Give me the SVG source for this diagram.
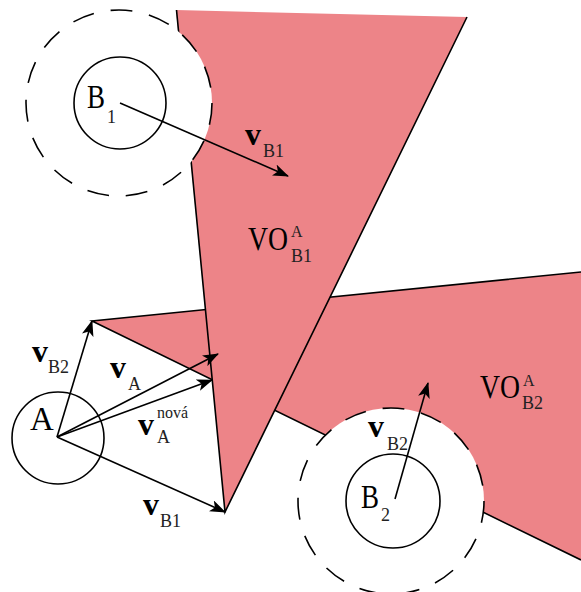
<svg xmlns="http://www.w3.org/2000/svg" width="581" height="592" viewBox="0 0 581 592">
<style>
.vo{fill:#ed8488;stroke:none}
.edge{stroke:#000;stroke-width:1.6;fill:none}
.obs{fill:#fff;stroke:#000;stroke-width:1.6;stroke-dasharray:22 17}
.body{fill:none;stroke:#000;stroke-width:1.6}
.vec{stroke:#000;stroke-width:1.6;fill:none;marker-end:url(#ah)}
text{font-family:"Liberation Serif","Times New Roman",serif;fill:#000}
.big{font-size:33px}
.bv{font-size:32px;font-weight:bold}
.sub{font-size:18px;fill:#222}
.sup{font-size:16px;fill:#222}
</style>
<defs>
<marker id="ah" viewBox="0 0 16 12" markerWidth="16" markerHeight="12" refX="15" refY="6" orient="auto" markerUnits="userSpaceOnUse">
<path d="M0,0 L16,6 L0,12 L4,6 Z" fill="#000"/>
</marker>
</defs>
<rect width="581" height="592" fill="#fff"/>
<g id="VO_B2">
<polygon class="vo" points="92,321 581,272 581,560"/>
<polyline class="edge" points="581,272 92,321 581,560"/>
</g>
<g id="VO_B1">
<polygon class="vo" points="176,10 467,17 225,512"/>
<polyline class="edge" points="176.5,10 225,512 467,17"/>
</g>
<g id="B1">
<circle class="obs" cx="119" cy="103" r="93"/>
<circle class="body" cx="120" cy="103" r="46"/>
<text class="big" x="87" y="108" textLength="18" lengthAdjust="spacingAndGlyphs">B</text><text class="sub" x="107" y="123">1</text>
</g>
<g id="B2">
<circle class="obs" cx="391" cy="501" r="93"/>
<circle class="body" cx="393" cy="501" r="47"/>
<text class="big" x="361" y="508" textLength="18" lengthAdjust="spacingAndGlyphs">B</text><text class="sub" x="381" y="521">2</text>
</g>
<g id="A">
<circle class="body" cx="58" cy="438" r="46"/>
<text class="big" x="30" y="430">A</text>
</g>
<g id="connectors">
<line class="vec" x1="120" y1="103" x2="288" y2="176"/>
<line class="vec" x1="395" y1="499" x2="428" y2="383"/>
<line class="vec" x1="57" y1="437" x2="92" y2="321"/>
<line class="vec" x1="57" y1="437" x2="218" y2="354"/>
<line class="vec" x1="57" y1="437" x2="212" y2="380"/>
<line class="vec" x1="57" y1="437" x2="225" y2="512"/>
</g>
<g id="labels">
<text class="bv" x="245" y="145">v</text><text class="sub" x="263" y="157">B1</text>
<text class="big" x="248" y="250" textLength="40" lengthAdjust="spacingAndGlyphs">VO</text><text class="sup" x="291" y="237">A</text><text class="sub" x="291" y="262">B1</text>
<text class="bv" x="32" y="362">v</text><text class="sub" x="48" y="373">B2</text>
<text class="bv" x="110" y="378">v</text><text class="sub" x="128" y="390">A</text>
<text class="bv" x="138" y="435">v</text><text class="sup" x="157" y="418">nová</text><text class="sub" x="157" y="443">A</text>
<text class="bv" x="143" y="515">v</text><text class="sub" x="160" y="527">B1</text>
<text class="big" x="480" y="398" textLength="40" lengthAdjust="spacingAndGlyphs">VO</text><text class="sup" x="523" y="386">A</text><text class="sub" x="522" y="409">B2</text>
<text class="bv" x="368" y="437">v</text><text class="sub" x="387" y="450">B2</text>
</g>
</svg>
